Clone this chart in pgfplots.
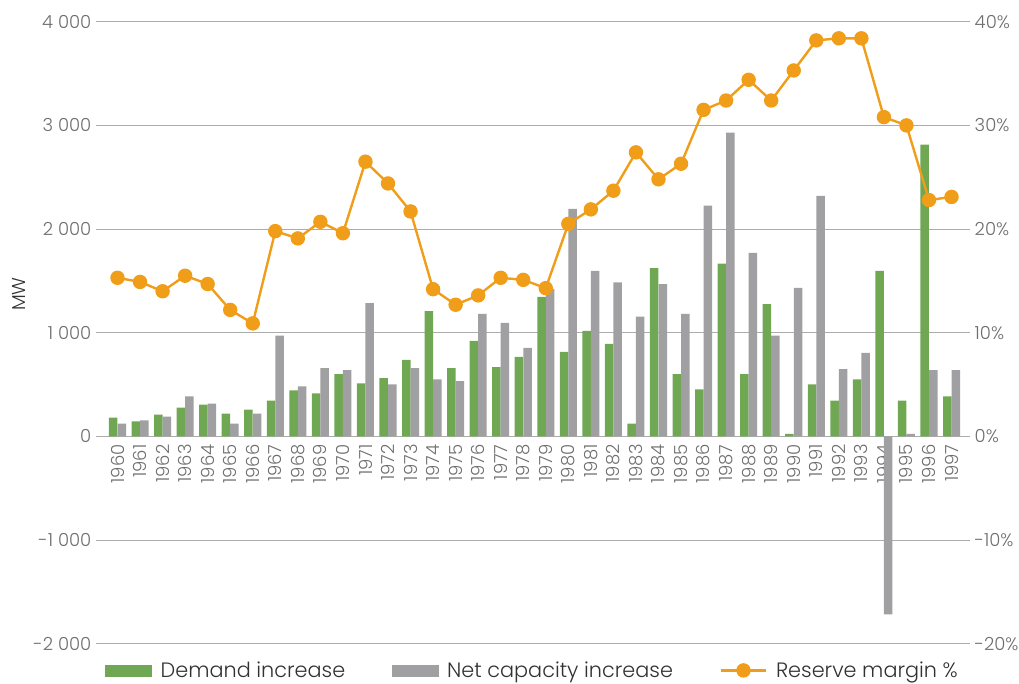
\documentclass[border=0pt]{standalone}
\usepackage{fontspec}
\IfFontExistsTF{Poppins Light}{\setmainfont{Poppins Light}}{\setmainfont{Poppins}}
\usepackage{pgfplots}
\usepackage{pgfplotstable}
\pgfplotsset{compat=1.18}
\definecolor{cgreen}{RGB}{112,167,83}
\definecolor{cgray}{RGB}{160,160,162}
\definecolor{corange}{RGB}{240,158,26}
\definecolor{cgrid}{RGB}{172,172,172}
\definecolor{ctick}{RGB}{110,110,110}
\definecolor{ctext}{RGB}{50,50,50}
\pgfplotstableread{
x year dem cap res
0 1960 180 122 15.3
1 1961 144 154 14.9
2 1962 210 190 14.0
3 1963 278 385 15.5
4 1964 307 317 14.7
5 1965 220 122 12.2
6 1966 259 220 10.9
7 1967 346 971 19.8
8 1968 444 483 19.1
9 1969 415 659 20.7
10 1970 600 639 19.6
11 1971 512 1286 26.5
12 1972 561 502 24.4
13 1973 737 659 21.7
14 1974 1208 551 14.2
15 1975 659 532 12.7
16 1976 922 1182 13.6
17 1977 668 1095 15.3
18 1978 766 854 15.1
19 1979 1346 1424 14.3
20 1980 815 2194 20.5
21 1981 1017 1597 21.9
22 1982 893 1485 23.7
23 1983 122 1156 27.4
24 1984 1623 1468 24.8
25 1985 600 1182 26.3
26 1986 454 2226 31.5
27 1987 1667 2930 32.4
28 1988 600 1771 34.4
29 1989 1277 971 32.4
30 1990 24 1433 35.3
31 1991 502 2320 38.2
32 1992 346 649 38.4
33 1993 551 805 38.4
34 1994 1597 -1717 30.8
35 1995 346 24 30.0
36 1996 2814 639 22.8
37 1997 385 639 23.1
}\data
\begin{document}
\begin{tikzpicture}
\begin{axis}[
  scale only axis, width=655.5pt, height=466.5pt,
  xmin=-0.954, xmax=37.82, ymin=-2000, ymax=4000,
  axis line style={draw=none},
  major tick length=0pt,
  ytick={-2000,-1000,0,1000,2000,3000,4000},
  yticklabels={-2 000,-1 000,0,1 000,2 000,3 000,4 000},
  yticklabel style={font=\fontsize{13.5}{16}\selectfont, text=ctick},
  ymajorgrids, grid style={cgrid, line width=0.8pt},
  xtick={0,...,37},
  xticklabels from table={\data}{year},
  xticklabel style={rotate=90, anchor=east, font=\fontsize{13.5}{16}\selectfont, text=ctick},
  xticklabel shift=-153pt,
  ylabel={MW},
  ylabel style={at={(axis description cs:-0.088,0.562)}, anchor=center, font=\fontsize{14}{16}\selectfont, text=ctext},
  ybar, bar width=0.377,
]
\addplot[fill=cgreen, draw=none, bar shift=-0.189] table[x=x,y=dem]{\data};
\addplot[fill=cgray, draw=none, bar shift=0.189] table[x=x,y=cap]{\data};
\end{axis}
\begin{axis}[
  scale only axis, width=655.5pt, height=466.5pt,
  xmin=-0.954, xmax=37.82, ymin=-20, ymax=40,
  axis line style={draw=none},
  major tick length=0pt,
  xtick=\empty,
  ytick={-20,-10,0,10,20,30,40},
  yticklabels={-20\%,-10\%,0\%,10\%,20\%,30\%,40\%},
  yticklabel pos=right,
  yticklabel style={font=\fontsize{13.5}{16}\selectfont, text=ctick},
  legend columns=3,
  legend style={at={(0.5,0)}, anchor=center, yshift=-20pt, draw=none,
    font=\fontsize{15.6}{18}\selectfont, text=ctext,
    /tikz/every even column/.append style={column sep=33pt}},
]
\addlegendimage{legend image code/.code={\fill[cgreen] (0pt,-4.1pt) rectangle (34.5pt,4.1pt); \path (39pt,0pt);}}
\addlegendentry{Demand increase}
\addlegendimage{legend image code/.code={\fill[cgray] (0pt,-4.1pt) rectangle (34.5pt,4.1pt); \path (39pt,0pt);}}
\addlegendentry{Net capacity increase}
\addplot[color=corange, line width=1.8pt, mark=*, mark size=4.5pt,
  legend image code/.code={\draw[corange,line width=1.8pt] (0pt,0pt) -- (34pt,0pt); \fill[corange] (17pt,0pt) circle (4.5pt); \path (38.5pt,0pt);}]
  table[x=x,y=res]{\data};
\addlegendentry{Reserve margin \%}
\end{axis}
\pgfresetboundingbox
\path[use as bounding box] (-72pt,-30pt) rectangle (692.25pt,482.8pt);
\end{tikzpicture}
\end{document}
